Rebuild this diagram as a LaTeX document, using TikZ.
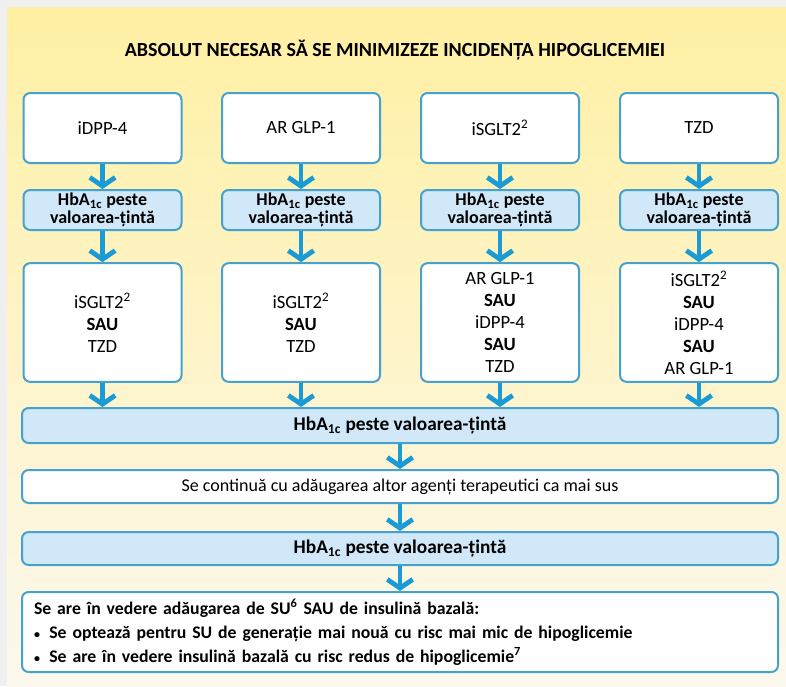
\documentclass[tikz,border=0pt]{standalone}
\usepackage{fontspec}
\setmainfont{Carlito}
\usetikzlibrary{positioning, arrows.meta}

\definecolor{boxline}{HTML}{45A2CE}
\definecolor{boxfill}{HTML}{D0E8F7}
\definecolor{arrowblue}{HTML}{1B9BD6}
\definecolor{paneltop}{HTML}{FFF0A3}
\definecolor{panelmid}{HTML}{FFF4C2}
\definecolor{panelbot}{HTML}{FCF8EE}

\begin{document}
\begin{tikzpicture}[x=0.75pt, y=-0.75pt,
    whitebox/.style={draw=boxline, line width=1.5pt, rounded corners=5pt, fill=white,
      align=center, inner sep=0pt, font=\fontsize{14}{16.5}\selectfont},
    bluebox/.style={whitebox, fill=boxfill, font=\bfseries\fontsize{13.5}{13.5}\selectfont},
    colbox/.style={minimum width=118.5pt},
    barbox/.style={minimum width=567pt},
    flow/.style={draw=arrowblue, line width=3.6pt, -{Straight Barb[length=6.5pt, width=19pt]}}
  ]
    \useasboundingbox (0,0) rectangle (786,686);

    % fond
    \fill[black!6] (0,0) rectangle (786,686);
    \shade[top color=paneltop, middle color=panelmid, bottom color=panelbot] (7,7) rectangle (786,686);

    % titlu
    \node[font=\bfseries\fontsize{15}{17}\selectfont] (title) at (395,50)
      {ABSOLUT NECESAR SĂ SE MINIMIZEZE INCIDENȚA HIPOGLICEMIEI};

    % prima linie
    \node[whitebox, colbox, minimum height=52.5pt] (d1) at (102.5,128) {iDPP-4};
    \node[whitebox, colbox, minimum height=52.5pt] (d2) at (301,128) {AR GLP-1};
    \node[whitebox, colbox, minimum height=52.5pt] (d3) at (500,128) {iSGLT2\textsuperscript{2}};
    \node[whitebox, colbox, minimum height=52.5pt] (d4) at (699,128) {TZD};

    % HbA1c pe coloane
    \node[bluebox, colbox, minimum height=30pt] (h1) at (102.5,210) {HbA\textsubscript{1c} peste\\valoarea-țintă};
    \node[bluebox, colbox, minimum height=30pt] (h2) at (301,210) {HbA\textsubscript{1c} peste\\valoarea-țintă};
    \node[bluebox, colbox, minimum height=30pt] (h3) at (500,210) {HbA\textsubscript{1c} peste\\valoarea-țintă};
    \node[bluebox, colbox, minimum height=30pt] (h4) at (699,210) {HbA\textsubscript{1c} peste\\valoarea-țintă};

    % a doua linie
    \node[whitebox, colbox, minimum height=89pt] (o1) at (102.5,322.5)
      {iSGLT2\textsuperscript{2}\\\textbf{SAU}\\TZD};
    \node[whitebox, colbox, minimum height=89pt] (o2) at (301,322.5)
      {iSGLT2\textsuperscript{2}\\\textbf{SAU}\\TZD};
    \node[whitebox, colbox, minimum height=89pt] (o3) at (500,322.5)
      {AR GLP-1\\\textbf{SAU}\\iDPP-4\\\textbf{SAU}\\TZD};
    \node[whitebox, colbox, minimum height=89pt] (o4) at (699,322.5)
      {iSGLT2\textsuperscript{2}\\\textbf{SAU}\\iDPP-4\\\textbf{SAU}\\AR GLP-1};

    % benzi
    \node[bluebox, barbox, minimum height=26.25pt, font=\bfseries\fontsize{14.5}{16}\selectfont] (hba) at (400,425.5)
      {HbA\textsubscript{1c} peste valoarea-țintă};
    \node[whitebox, barbox, minimum height=24.75pt, font=\fontsize{13.5}{16}\selectfont] (cont) at (400,486.5)
      {Se continuă cu adăugarea altor agenți terapeutici ca mai sus};
    \node[bluebox, barbox, minimum height=24.75pt, font=\bfseries\fontsize{14.5}{16}\selectfont] (hbb) at (400,548.5)
      {HbA\textsubscript{1c} peste valoarea-țintă};
    \node[whitebox, barbox, minimum height=60pt, align=left, text width=549pt, inner xsep=9pt,
      font=\bfseries\fontsize{13.3}{18}\selectfont] (final) at (400,632)
      {Se are în vedere adăugarea de SU\textsuperscript{6} SAU de insulină bazală:\\
       {\fontsize{9}{9}\selectfont\textbullet}\hspace{7pt}Se optează pentru SU de generație mai nouă cu risc mai mic de hipoglicemie\\
       {\fontsize{9}{9}\selectfont\textbullet}\hspace{7pt}Se are în vedere insulină bazală cu risc redus de hipoglicemie\textsuperscript{7}};

    % sageti
    \draw[flow] (d1) -- (h1);
    \draw[flow] (d2) -- (h2);
    \draw[flow] (d3) -- (h3);
    \draw[flow] (d4) -- (h4);
    \draw[flow] (h1) -- (o1);
    \draw[flow] (h2) -- (o2);
    \draw[flow] (h3) -- (o3);
    \draw[flow] (h4) -- (o4);
    \draw[flow] (o1) -- (o1 |- hba.north);
    \draw[flow] (o2) -- (o2 |- hba.north);
    \draw[flow] (o3) -- (o3 |- hba.north);
    \draw[flow] (o4) -- (o4 |- hba.north);
    \draw[flow] (hba) -- (cont);
    \draw[flow] (cont) -- (hbb);
    \draw[flow] (hbb) -- (final);
  \end{tikzpicture}
\end{document}
